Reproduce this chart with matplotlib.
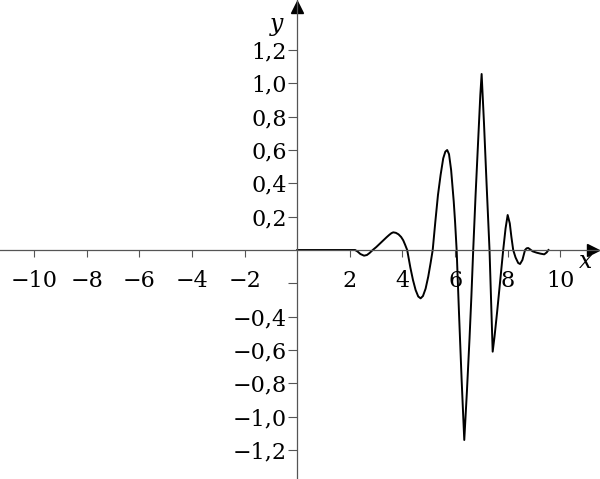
import matplotlib
matplotlib.use("Agg")
import matplotlib.pyplot as plt

# ------ values -------------------------------------

curve_x = [0.0, 2.2, 2.3, 2.4, 2.54, 2.65, 2.75, 2.87,
           3.0, 3.1, 3.2, 3.3, 3.4, 3.5, 3.58, 3.65, 3.75, 3.85, 3.95, 4.03, 4.1, 4.18,
           4.3, 4.4, 4.5, 4.6, 4.69, 4.78, 4.88, 4.98, 5.07, 5.15,
           5.25, 5.35, 5.45, 5.55, 5.63, 5.70, 5.77, 5.85, 5.95, 6.0, 6.06,
           6.15, 6.25, 6.35, 6.45, 6.55, 6.62, 6.69,
           6.78, 6.9, 6.96, 7.01, 7.1, 7.2, 7.31,
           7.43, 7.5, 7.6, 7.7, 7.83,
           7.92, 8.0, 8.08, 8.14, 8.21,
           8.3, 8.4, 8.47, 8.56, 8.66, 8.72, 8.78, 8.85, 8.95, 9.1, 9.25, 9.39, 9.48, 9.55]
curve_y = [0.0, 0.0, -0.01, -0.024, -0.034, -0.03, -0.018, 0.0,
           0.017, 0.032, 0.047, 0.062, 0.077, 0.091, 0.101, 0.106, 0.103, 0.094, 0.078, 0.058, 0.032, 0.0,
           -0.105, -0.18, -0.24, -0.279, -0.29, -0.276, -0.232, -0.16, -0.078, 0.0,
           0.17, 0.33, 0.45, 0.55, 0.59, 0.60, 0.575, 0.48, 0.29, 0.17, 0.0,
           -0.38, -0.78, -1.14, -0.85, -0.53, -0.28, 0.0,
           0.33, 0.73, 0.93, 1.056, 0.76, 0.39, 0.0,
           -0.61, -0.52, -0.37, -0.21, 0.0,
           0.13, 0.21, 0.16, 0.08, 0.0,
           -0.045, -0.078, -0.084, -0.06, 0.0, 0.01, 0.012, 0.004, -0.008, -0.016, -0.022, -0.026, -0.015, 0.0]

x_ticks = [-10, -8, -6, -4, -2, 2, 4, 6, 8, 10]
x_labels = ["\u221210", "\u22128", "\u22126", "\u22124", "\u22122", "2", "4", "6", "8", "10"]
y_ticks = [-1.2, -1.0, -0.8, -0.6, -0.4, -0.2, 0.2, 0.4, 0.6, 0.8, 1.0, 1.2]
y_labels = ["\u22121,2", "\u22121,0", "\u22120,8", "\u22120,6", "\u22120,4", "",
            "0,2", "0,4", "0,6", "0,8", "1,0", "1,2"]

# ----------- plot ---------------------------------

plt.rcParams['font.family'] = ['DejaVu Serif']
axis_col = '#555555'

fig = plt.figure(figsize=(6, 4.79), dpi=100)
ax = fig.add_axes([0, 0, 1, 1])
ax.set_xlim(-11.30, 11.51)
ax.set_ylim(-1.374, 1.50)

for side in ['top', 'right']:
    ax.spines[side].set_visible(False)
for side in ['left', 'bottom']:
    ax.spines[side].set_position('zero')
    ax.spines[side].set_color(axis_col)
    ax.spines[side].set_linewidth(0.9)

# arrow heads
ax.plot(0.988, 0, '>', color='black', ms=8, transform=ax.get_yaxis_transform(), clip_on=False)
ax.plot(0, 0.985, '^', color='black', ms=8, transform=ax.get_xaxis_transform(), clip_on=False)

ax.set_xticks(x_ticks)
ax.set_xticklabels(x_labels)
ax.set_yticks(y_ticks)
ax.set_yticklabels(y_labels)
ax.tick_params(axis='x', direction='out', length=5, width=0.8, color=axis_col, pad=9.5, labelsize=16)
ax.tick_params(axis='y', direction='out', length=6.5, width=0.8, color=axis_col, pad=0.8, labelsize=16)

ax.plot(curve_x, curve_y, color='black', lw=1.4)

ax.text(10.98, -0.072, 'x', style='italic', fontsize=17, ha='center', va='center')
ax.text(-0.78, 1.356, 'y', style='italic', fontsize=17, ha='center', va='center')

plt.savefig('out.png')
